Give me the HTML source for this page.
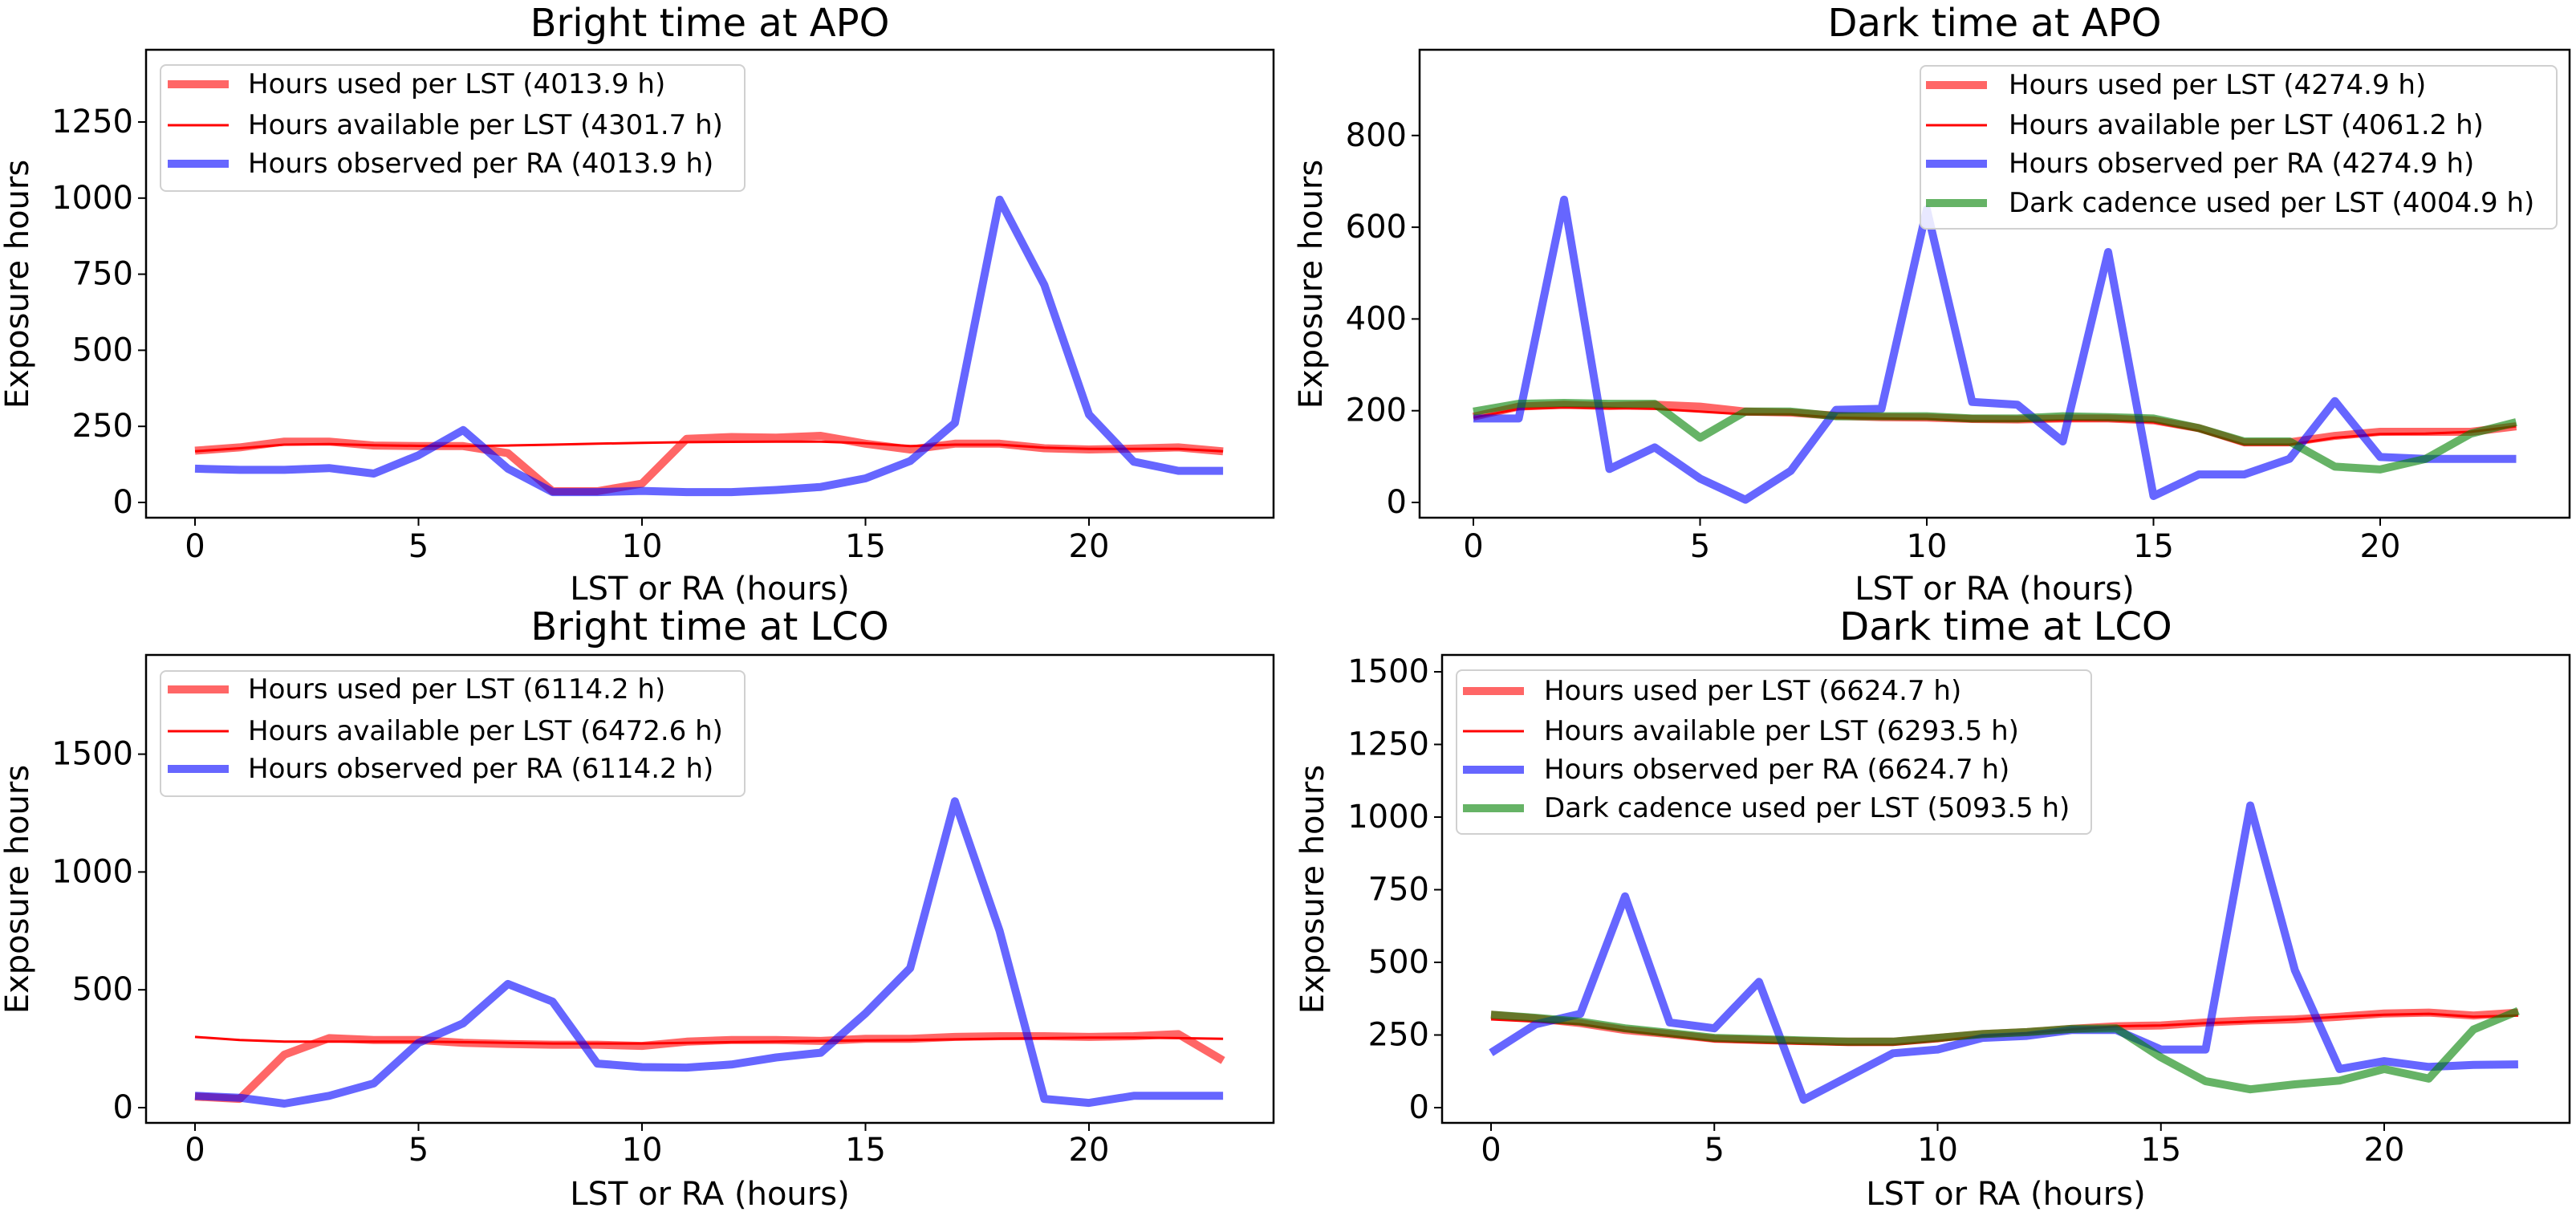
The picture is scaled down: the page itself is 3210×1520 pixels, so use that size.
<!DOCTYPE html>
<html><head><meta charset="utf-8"><style>
html,body{margin:0;padding:0;background:#fff;}
svg text{font-family:"DejaVu Sans","Liberation Sans",sans-serif;fill:#000;}
</style></head><body>
<svg id="fig" width="3210" height="1515" viewBox="0 0 3210 1515" xmlns="http://www.w3.org/2000/svg"></svg>
<script>
const hours = [0,1,2,3,4,5,6,7,8,9,10,11,12,13,14,15,16,17,18,19,20,21,22,23];
const xTicks = [0,5,10,15,20];

// Bright APO
const brightApoUsed = [170,181,200,200,187,185,185,162,37,37,62,209,215,213,219,193,174,193,193,178,174,177,181,168];
const brightApoAvail = [168,178,190,192,188,186,185,187,190,193,196,198,199,200,200,195,185,190,190,180,176,176,176,168];
const brightApoObs = [111,107,107,113,95,155,238,111,34,34,38,34,34,41,51,79,136,261,995,715,289,134,104,104];
const brightApoTicks = [0,250,500,750,1000,1250];

// Dark APO
const darkApoUsed = [187,209,213,210,213,209,198,196,189,186,185,182,181,183,183,179,162,131,131,145,154,154,154,166];
const darkApoAvail = [185,204,207,206,204,198,192,192,185,183,182,177,177,179,179,175,156,126,126,141,149,150,154,166];
const darkApoObs = [183,183,660,73,120,52,6,69,202,204,639,219,213,133,546,14,61,61,95,221,99,95,95,95];
const darkApoCad = [198,215,217,215,215,141,198,198,188,188,188,183,183,188,186,183,162,133,133,78,72,95,150,175];
const darkApoTicks = [0,200,400,600,800];

// Bright LCO
const brightLcoUsed = [47,37,225,295,287,287,275,270,267,267,262,280,287,287,283,292,292,300,303,303,300,303,312,200];
const brightLcoAvail = [300,287,280,280,280,280,278,275,272,272,272,275,278,280,283,285,287,290,293,295,297,297,295,292];
const brightLcoObs = [50,42,17,50,103,275,358,525,450,187,172,170,183,213,233,400,592,1300,750,37,20,50,50,50];
const brightLcoTicks = [0,500,1000,1500];

// Dark LCO
const darkLcoUsed = [320,307,291,267,253,237,233,229,227,227,240,253,260,271,280,283,293,300,304,313,324,327,317,327];
const darkLcoAvail = [304,296,287,264,247,229,224,220,216,216,229,247,256,269,280,283,291,296,304,313,320,323,313,317];
const darkLcoObs = [189,287,323,727,293,273,433,27,107,187,200,240,247,267,267,200,200,1040,473,133,160,140,147,149];
const darkLcoCad = [320,309,296,273,257,240,236,231,227,227,240,253,260,271,273,173,91,63,80,93,133,100,269,333];
const darkLcoTicks = [0,250,500,750,1000,1250,1500];

const NS = "http://www.w3.org/2000/svg";
const svg = document.getElementById('fig');
function mk(tag, attrs, parent){ const e=document.createElementNS(NS,tag); for(const k in attrs) e.setAttribute(k,attrs[k]); (parent||svg).appendChild(e); return e; }

const panels = [
 {key:'bright-apo', title:'Bright time at APO', L:182,R:1587,T:62,B:645, x0px:243, hpx:55.7, y0px:626, ppu:94.8/250, ticks:brightApoTicks,
  series:[['used',brightApoUsed],['avail',brightApoAvail],['obs',brightApoObs]],
  labels:['Hours used per LST (4013.9 h)','Hours available per LST (4301.7 h)','Hours observed per RA (4013.9 h)'],
  leg:{x:200,y:81,w:728,h:157,rows:[105,156,204],hx:209,tx:309}, ylx:22, yly:354, titleY:29, xlY:734, tickY:681},
 {key:'dark-apo', title:'Dark time at APO', L:1769,R:3202,T:62,B:645, x0px:1836, hpx:56.5, y0px:626, ppu:114.3/200, ticks:darkApoTicks,
  series:[['used',darkApoUsed],['avail',darkApoAvail],['obs',darkApoObs],['cad',darkApoCad]],
  labels:['Hours used per LST (4274.9 h)','Hours available per LST (4061.2 h)','Hours observed per RA (4274.9 h)','Dark cadence used per LST (4004.9 h)'],
  leg:{x:2393,y:82,w:793,h:203,rows:[106,156,204,253],hx:2400,tx:2503}, ylx:1634, yly:354, titleY:29, xlY:734, tickY:681},
 {key:'bright-lco', title:'Bright time at LCO', L:182,R:1587,T:816,B:1399, x0px:243, hpx:55.7, y0px:1380, ppu:146.8/500, ticks:brightLcoTicks,
  series:[['used',brightLcoUsed],['avail',brightLcoAvail],['obs',brightLcoObs]],
  labels:['Hours used per LST (6114.2 h)','Hours available per LST (6472.6 h)','Hours observed per RA (6114.2 h)'],
  leg:{x:200,y:836,w:728,h:156,rows:[859,911,958],hx:209,tx:309}, ylx:22, yly:1108, titleY:781, xlY:1488, tickY:1433},
 {key:'dark-lco', title:'Dark time at LCO', L:1797,R:3202,T:816,B:1399, x0px:1858, hpx:55.65, y0px:1380, ppu:90.5/250, ticks:darkLcoTicks,
  series:[['used',darkLcoUsed],['avail',darkLcoAvail],['obs',darkLcoObs],['cad',darkLcoCad]],
  labels:['Hours used per LST (6624.7 h)','Hours available per LST (6293.5 h)','Hours observed per RA (6624.7 h)','Dark cadence used per LST (5093.5 h)'],
  leg:{x:1815,y:835,w:791,h:204,rows:[861,911,959,1007],hx:1823,tx:1924}, ylx:1636, yly:1108, titleY:781, xlY:1488, tickY:1433}
];
const styles = {
 used:{stroke:'rgba(255,0,0,0.6)',w:10},
 avail:{stroke:'#ff0000',w:3},
 obs:{stroke:'rgba(0,0,255,0.6)',w:10},
 cad:{stroke:'rgba(0,128,0,0.6)',w:10}
};

panels.forEach(p=>{
  const g = mk('g',{});
  
  
  const xs = h => p.x0px + h*p.hpx;
  const ys = v => p.y0px - v*p.ppu;
  const clipId = 'clip-'+p.key;
  const cp = mk('clipPath',{id:clipId},g);
  mk('rect',{x:p.L,y:p.T,width:p.R-p.L,height:p.B-p.T},cp);
  const t = mk('text',{x:(p.L+p.R)/2,y:p.titleY,'font-size':48,'text-anchor':'middle','dominant-baseline':'central'},g);
  t.textContent = p.title;
  
  
  const lg = mk('g',{'clip-path':'url(#'+clipId+')'},g);
  p.series.forEach(([k,arr])=>{
    const d = arr.map((v,i)=>(i?'L':'M')+xs(hours[i]).toFixed(1)+' '+ys(v).toFixed(1)).join(' ');
    const pe = mk('path',{d:d,fill:'none',stroke:styles[k].stroke,'stroke-width':styles[k].w,'stroke-linejoin':'round'},lg);
    
    
  });
  const frame = mk('rect',{x:p.L,y:p.T,width:p.R-p.L,height:p.B-p.T,fill:'none',stroke:'#000','stroke-width':2.5},g);
  
  
  xTicks.forEach(v=>{
    const x = xs(v);
    mk('line',{x1:x,x2:x,y1:p.B,y2:p.B+10,stroke:'#000','stroke-width':2},g);
    const tx = mk('text',{x:x,y:p.tickY,'font-size':40,'text-anchor':'middle','dominant-baseline':'central'},g);
    tx.textContent = v;
    
    
  });
  p.ticks.forEach(v=>{
    const y = ys(v);
    mk('line',{x1:p.L-10,x2:p.L,y1:y,y2:y,stroke:'#000','stroke-width':2},g);
    const ty = mk('text',{x:p.L-16,y:y,'font-size':40,'text-anchor':'end','dominant-baseline':'central'},g);
    ty.textContent = v;
    
    
  });
  const xl = mk('text',{x:(p.L+p.R)/2,y:p.xlY,'font-size':40,'text-anchor':'middle','dominant-baseline':'central'},g);
  xl.textContent = 'LST or RA (hours)';
  
  
  const yl = mk('text',{x:p.ylx,y:p.yly,'font-size':40,'text-anchor':'middle','dominant-baseline':'central',transform:'rotate(-90 '+p.ylx+' '+p.yly+')'},g);
  yl.textContent = 'Exposure hours';
  
  
  const L = p.leg;
  const lgd = mk('g',{},g);
  
  
  mk('rect',{x:L.x,y:L.y,width:L.w,height:L.h,rx:7,fill:'rgba(255,255,255,0.85)',stroke:'#d0d0d0','stroke-width':2},lgd);
  p.series.forEach(([k],i)=>{
    const y = L.rows[i];
    mk('line',{x1:L.hx,x2:L.hx+76,y1:y,y2:y,stroke:styles[k].stroke,'stroke-width':styles[k].w},lgd);
    const te = mk('text',{x:L.tx,y:y,'font-size':34,'dominant-baseline':'central'},lgd);
    te.textContent = p.labels[i];
    
    
  });
});
</script>
</body></html>
